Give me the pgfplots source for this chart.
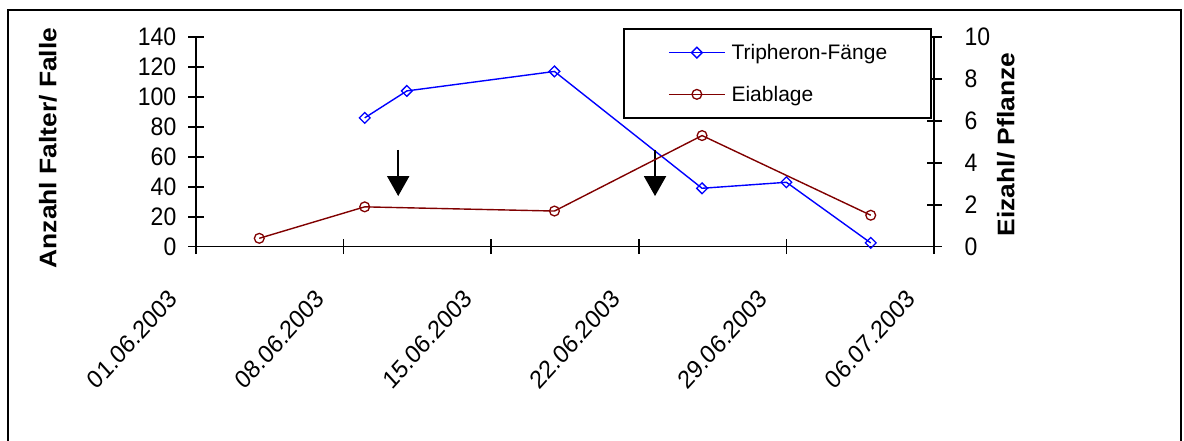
\documentclass[border=0pt]{standalone}
\usepackage{pgfplots}
\pgfplotsset{compat=1.18}
\usepackage{fontspec}
\setmainfont{Liberation Sans}
\usetikzlibrary{arrows.meta}
\definecolor{tblue}{RGB}{0,0,255}
\definecolor{tred}{RGB}{128,0,0}
\newcommand{\tickfont}{\fontsize{23}{23}\selectfont}
\newcommand{\legfont}{\fontsize{21}{21}\selectfont}
\newcommand{\labfont}{\fontsize{24}{24}\selectfont\bfseries}

\pgfplotstableread{
day val
8  86
10 104
17 117
24 39
28 43
32 2.5
}\tripheron

\pgfplotstableread{
day val
3  0.4
8  1.9
17 1.7
24 5.3
32 1.5
}\eiablage

\pgfplotsset{
  common/.style={
    at={(196pt,194.3pt)}, anchor=south west,
    scale only axis, width=738pt, height=209.7pt,
    xmin=0, xmax=35,
    tick align=center, major tick length=15pt,
    tick style={line width=1.6pt, black},
    axis line style={line width=1.6pt, black},
    /pgf/number format/assume math mode=true,
    ticklabel style={font=\tickfont},
  },
  tstyle/.style={color=tblue, line width=1.4pt, mark=square, mark size=3.8pt,
    mark options={rotate=45, solid, line width=1.3pt, fill=white}},
  estyle/.style={color=tred, line width=1.4pt, mark=o, mark size=4.9pt,
    mark options={solid, line width=1.3pt, fill=white}},
}

\begin{document}
\begin{tikzpicture}[x=1pt,y=1pt]
\useasboundingbox (0,0) rectangle (1184,441);
\draw[line width=1.6pt] (8,-10) -- (8,431) -- (1181,431) -- (1181,-10);

\begin{axis}[common,
  ymin=0, ymax=140,
  axis x line*=bottom, axis y line*=left,
  xtick={0,7,14,21,28,35},
  xticklabels={01.06.2003,08.06.2003,15.06.2003,22.06.2003,29.06.2003,06.07.2003},
  xticklabel style={inner sep=0pt, xshift=-29pt, yshift=-34pt, yscale=1.1, rotate=45, anchor=north east},
  ytick={0,20,...,140},
  yticklabel={\pgfmathprintnumber{\tick}\hspace{12pt}\mbox{}},
  yticklabel style={inner sep=0pt, yscale=1.1, anchor=east},
  ylabel={Anzahl Falter/ Falle},
  ylabel style={font=\labfont, at={(axis description cs:-0.2005,0.4707)}, anchor=center, xscale=1.1},
]
\addplot[tstyle] table[x=day, y=val] {\tripheron};
\draw[line width=2pt, -{Triangle[width=22pt,length=20pt]}] (axis cs:9.59,64.6) -- (axis cs:9.59,33.8);
\draw[line width=2pt, -{Triangle[width=22pt,length=20pt]}] (axis cs:21.77,64.6) -- (axis cs:21.77,33.8);
\end{axis}

\begin{axis}[common,
  ymin=0, ymax=10,
  axis x line=none, axis y line*=right,
  ytick={0,2,...,10},
  yticklabel={\hspace{23pt}\pgfmathprintnumber{\tick}},
  yticklabel style={inner sep=0pt, yscale=1.1, anchor=west},
  ylabel={Eizahl/ Pflanze},
  ylabel style={font=\labfont, at={(axis description cs:1.0976,0.4874)}, anchor=center, xscale=1.1},
  legend style={at={(axis description cs:0.9973,1.043)}, anchor=north east,
    draw=black, line width=1.6pt, fill=white, font=\legfont,
    inner xsep=44pt, inner ysep=15.5pt, row sep=25pt, column sep=6pt,
    nodes={inner sep=0pt}},
  legend cell align=left,
  legend image code/.code={\draw[mark repeat=2, mark phase=2, #1] plot coordinates {(0pt,0pt) (28pt,0pt) (56pt,0pt)};},
]
\addlegendimage{tstyle}
\addlegendentry{Tripheron-Fänge}
\addplot[estyle] table[x=day, y=val] {\eiablage};
\addlegendentry{Eiablage}
\end{axis}
\end{tikzpicture}
\end{document}
